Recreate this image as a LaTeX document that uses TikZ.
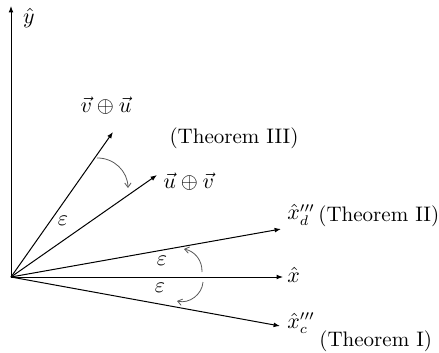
\documentclass[tikz,border=0pt]{standalone}
\usetikzlibrary{arrows.meta}
\begin{document}
\begin{tikzpicture}[x=0.5pt,y=-0.5pt,
  vec/.style={line width=0.5pt,-{Latex[length=3.2pt,width=2.4pt]}},
  turn/.style={line width=0.4pt,draw=black!65,-{Straight Barb[length=2.2pt,width=3.2pt]}},
  lbl/.style={inner sep=0pt,font=\fontsize{10.5}{12}\selectfont}]
\useasboundingbox (0,0) rectangle (439,353);
% points
\coordinate (O) at (11,277);
\coordinate (Y) at (11,6);
\coordinate (X) at (283,277);
\coordinate (XD) at (281,229);
\coordinate (XC) at (280,326);
\coordinate (VU) at (113,132);
\coordinate (UV) at (157,175);
% vectors
\draw[vec] (O) -- (Y);
\draw[vec] (O) -- (X);
\draw[vec] (O) -- (XD);
\draw[vec] (O) -- (XC);
\draw[vec] (O) -- (VU);
\draw[vec] (O) -- (UV);
% labels
\node[lbl] (ly) at (29,18) {$\hat{y}$};
\node[lbl] (lvu) at (106,106) {$\vec{v}\oplus\vec{u}$};
\node[lbl,anchor=west] (luv) at (163,182) {$\vec{u}\oplus\vec{v}$};
\node[lbl] (t3) at (234,138) {(Theorem III)};
\node[lbl,anchor=base west] (lxd) at (287,220) {$\hat{x}_d'''$};
\node[lbl,anchor=base west] (t2) at (318,221) {(Theorem II)};
\node[lbl,anchor=base west] (lx) at (287,282) {$\hat{x}$};
\node[lbl,anchor=base west] (lxc) at (287,328) {$\hat{x}_c'''$};
\node[lbl,anchor=base west] (t1) at (319,346) {(Theorem I)};
\node[lbl] (e1) at (63,221) {$\varepsilon$};
\node[lbl] (e2) at (162,261) {$\varepsilon$};
\node[lbl] (e3) at (160,288) {$\varepsilon$};
% turning arcs
\coordinate (a1s) at (97,158);
\coordinate (a1e) at (128,188);
\coordinate (a2s) at (202,272);
\coordinate (a2e) at (184,249);
\coordinate (a3s) at (203,282);
\coordinate (a3e) at (177,301);
\draw[turn] (a1s) to[bend left=45] (a1e);
\draw[turn] (a2s) to[bend right=40] (a2e);
\draw[turn] (a3s) to[bend left=50] (a3e);
\end{tikzpicture}
\end{document}
